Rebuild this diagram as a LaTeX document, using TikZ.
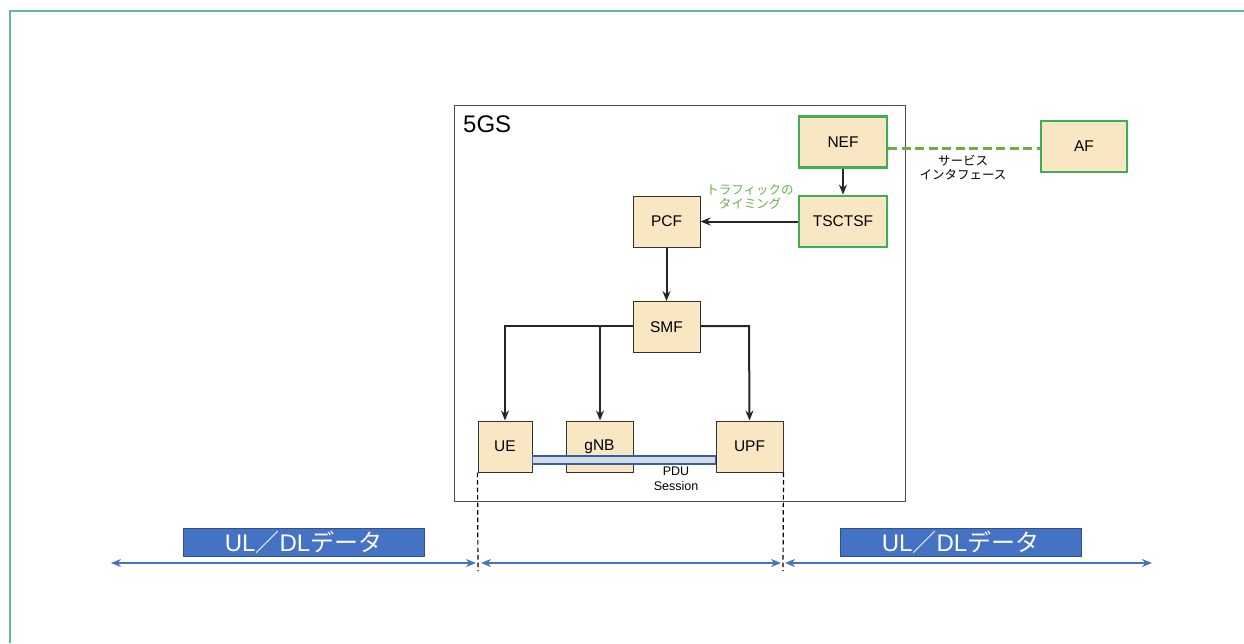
\documentclass[tikz,border=0pt]{standalone}
\usepackage{fontspec}
\setmainfont{Liberation Sans}
\newfontfamily\cjk{Noto Sans CJK JP}
\usetikzlibrary{arrows.meta}
\definecolor{beige}{HTML}{F9E6C3}
\definecolor{nfgreen}{HTML}{3FAE55}
\definecolor{ifgreen}{HTML}{70AD47}
\definecolor{ofblue}{HTML}{4472C4}
\definecolor{tubefill}{HTML}{D2DCE8}
\definecolor{tubeline}{HTML}{3A5F9E}
\definecolor{framecol}{HTML}{5DB8A6}
\tikzset{
  nf/.style={draw=black!80, line width=1pt, fill=beige, minimum width=67pt, minimum height=51pt, inner sep=0pt, font=\fontsize{15.5}{18}\selectfont},
  nfg/.style={nf, draw=nfgreen, line width=2.8pt, minimum width=88pt, minimum height=51pt},
  flow/.style={-{Stealth[length=10pt,width=8pt]}, line width=2pt, black!85},
  dataarrow/.style={{Stealth[length=10pt,width=8pt]}-{Stealth[length=10pt,width=8pt]}, line width=2pt, ofblue},
  databox/.style={fill=ofblue, draw=ofblue!70!black, line width=0.4pt, minimum width=241pt, minimum height=28pt, inner sep=0pt, text=white, font=\fontsize{24}{27}\selectfont},
  small/.style={font=\cjk\fontsize{12.5}{14}\selectfont, align=center},
}
\begin{document}
\begin{tikzpicture}[x=1pt,y=-1pt]
\useasboundingbox (0,0) rectangle (1244,643);
% outer frame
\draw[framecol, line width=2pt] (10,643) -- (10,11) -- (1244,11);
% 5GS system box
\node[draw=black!70, line width=0.8pt, minimum width=451pt, minimum height=396pt, inner sep=0pt] (gs) at (679.5,303) {};
\node[anchor=north west, font=\fontsize{24}{27}\selectfont, inner sep=0pt] (gslabel) at (463,116) {5GS};
% network functions
\node[nfg] (nef) at (843,142) {NEF};
\node[nfg, minimum width=86pt] (af) at (1084,146.5) {AF};
\node[nfg] (tsc) at (843,221.5) {TSCTSF};
\node[nf] (pcf) at (666.5,221.5) {PCF};
\node[nf] (smf) at (666.5,327) {SMF};
\node[nf, minimum width=54pt] (ue) at (505,446.5) {UE};
\node[nf] (gnb) at (599.5,446.5) {gNB};
\node[nf] (upf) at (749.5,446.5) {UPF};
% control flows
\draw[flow] (nef) -- (tsc);
\draw[flow] (tsc) -- (pcf);
\draw[flow] (pcf) -- (smf);
\coordinate (sl) at (505,326);
\coordinate (sg) at (600,326);
\coordinate (sr) at (749,326);
\draw[flow] (smf.west |- sl) -- (sl) -- (ue.north);
\draw[flow] (sg) -- (sg |- gnb.north);
\draw[flow] (smf.east |- sr) -- (sr) -- (upf.north);
\node[small, text=ifgreen, anchor=south] (tim) at (750,213) {トラフィックの\\タイミング};
% service interface to AF
\draw[ifgreen, line width=3pt, dash pattern=on 9pt off 4.5pt] (nef.east |- 0,148) -- (af.west |- 0,148);
\node[small, anchor=north] (sif) at (963,152) {サービス\\インタフェース};
% PDU session tube
\draw[tubeline, fill=tubefill, line width=1.2pt] (ue.east |- 0,456) rectangle (upf.west |- 0,464);
\node[font=\fontsize{12.5}{15}\selectfont, align=center, anchor=north, inner sep=0pt] (pdu) at (676,467) {PDU\\Session};
% boundaries of the 5GS segment
\coordinate (ub) at (478,571);
\coordinate (pb) at (783,571);
\draw[black, line width=1.2pt, dash pattern=on 4.5pt off 3pt] (ue.south west) -- (ub);
\draw[black, line width=1.2pt, dash pattern=on 4.5pt off 3pt] (upf.south east) -- (pb);
% user data arrows
\coordinate (la) at (111,563);
\coordinate (ra) at (1152,563);
\draw[dataarrow] (la) -- (476,563);
\draw[dataarrow] (481,563) -- (781,563);
\draw[dataarrow] (785,563) -- (ra);
\node[databox] (dl) at (303.5,542) {UL{\cjk ／}DL{\cjk データ}};
\node[databox] (dr) at (960.5,542) {UL{\cjk ／}DL{\cjk データ}};
\end{tikzpicture}
\end{document}
